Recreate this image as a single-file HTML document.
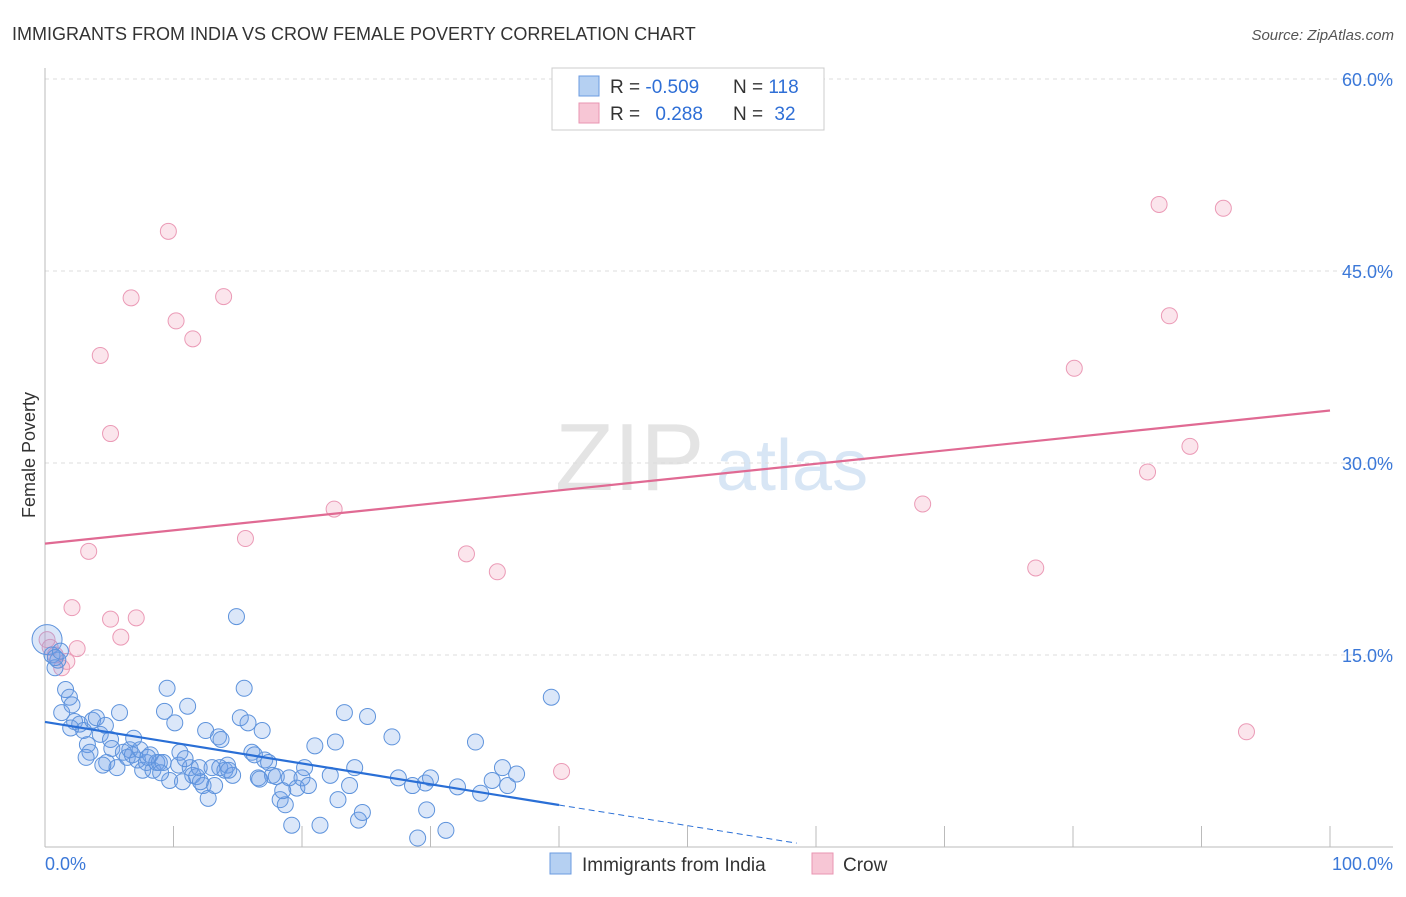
<!DOCTYPE html>
<html><head><meta charset="utf-8"><style>
body{margin:0;background:#fff;font-family:"Liberation Sans",sans-serif;}
svg text{font-family:"Liberation Sans",sans-serif;}
</style></head><body>
<svg id="chart" width="1406" height="892">
<text x="12" y="40" font-size="18" fill="#333">IMMIGRANTS FROM INDIA VS CROW FEMALE POVERTY CORRELATION CHART</text>
<text x="1394" y="40" font-size="15" fill="#555" font-style="italic" text-anchor="end">Source: ZipAtlas.com</text>
<g>
<text x="555" y="490" font-size="96" fill="#e4e4e4" font-family="Liberation Serif,serif">ZIP</text>
<text x="716" y="490" font-size="72" fill="#d8e6f5">atlas</text>
</g>
<g id="grid"></g>
<g id="axes"></g>
<g id="marks"></g>
<text x="35" y="455" font-size="18" fill="#333" text-anchor="middle" transform="rotate(-90 35 455)">Female Poverty</text>
<g>
<rect x="552" y="68" width="272" height="62" fill="#fff" stroke="#ccc"/>
<rect x="579" y="76" width="20" height="20" fill="#b5d0f2" stroke="#6b9be0"/>
<rect x="579" y="103" width="20" height="20" fill="#f7c6d5" stroke="#e995b2"/>
<text x="610" y="93" font-size="19" fill="#333">R = <tspan fill="#2f6fd6">-0.509</tspan></text>
<text x="733" y="93" font-size="19" fill="#333">N = <tspan fill="#2f6fd6">118</tspan></text>
<text x="610" y="120" font-size="19" fill="#333">R = <tspan fill="#2f6fd6" dx="10">0.288</tspan></text>
<text x="733" y="120" font-size="19" fill="#333">N = <tspan fill="#2f6fd6" dx="6">32</tspan></text>
</g>
<g>
<rect x="550" y="853" width="21" height="21" fill="#b5d0f2" stroke="#6b9be0"/>
<text x="582" y="871" font-size="19" fill="#333">Immigrants from India</text>
<rect x="812" y="853" width="21" height="21" fill="#f7c6d5" stroke="#e995b2"/>
<text x="843" y="871" font-size="19" fill="#333">Crow</text>
</g>
</svg>
<script>
const yTicks=[15,30,45,60];
const yTickLabels=["15.0%","30.0%","45.0%","60.0%"];
const xTicks=[0,10,20,30,40,50,60,70,80,90,100];
const blueX=[0.16,0.54,0.78,1.0,1.3,1.6,1.9,2.1,2.3,2.7,3.0,3.3,3.5,3.7,4.0,4.3,4.7,4.8,5.1,5.2,5.6,5.8,6.1,6.4,6.6,6.8,7.2,7.4,7.6,7.9,8.2,8.4,8.7,8.9,9.2,9.5,9.3,9.7,10.1,10.4,10.5,10.7,11.1,11.3,11.5,11.8,12.0,12.3,12.5,12.7,13.0,13.2,13.5,13.7,13.6,14.0,14.2,14.6,14.9,15.2,15.5,15.8,16.1,16.3,16.6,16.9,17.1,17.4,17.7,18.0,18.3,18.7,19.0,19.2,19.6,20.0,20.2,20.5,21.0,21.4,22.2,22.6,22.8,23.3,23.7,24.1,24.4,24.7,25.1,27.0,27.5,28.6,29.0,29.6,30.0,29.7,31.2,32.1,33.5,33.9,34.8,35.6,36.0,36.7,39.4,0.8,1.2,2.0,3.2,4.5,6.9,8.0,9.0,10.9,12.1,14.3,16.7,18.5];
const blueY=[16.2,15.0,14.0,14.6,10.5,12.3,11.7,11.1,9.8,9.6,9.1,8.0,7.4,9.9,10.1,8.8,9.5,6.6,8.4,7.7,6.2,10.5,7.4,7.0,7.6,7.2,6.8,7.6,6.0,6.6,7.2,6.0,6.6,6.6,6.6,12.4,10.6,5.2,9.7,6.4,7.4,5.1,11.0,6.2,5.6,5.5,6.2,4.8,9.1,3.8,6.2,4.8,8.6,8.4,6.2,6.0,6.4,5.6,18.0,10.1,12.4,9.7,7.4,7.2,5.4,9.1,6.8,6.6,5.6,5.5,3.7,3.3,5.4,1.7,4.6,5.4,6.2,4.8,7.9,1.7,5.6,8.2,3.7,10.5,4.8,6.2,2.1,2.7,10.2,8.6,5.4,4.8,0.7,5.0,5.4,2.9,1.3,4.7,8.2,4.2,5.2,6.2,4.8,5.7,11.7,14.8,15.3,9.3,7.0,6.4,8.5,7.0,5.8,6.9,5.1,6.0,5.3,4.4];
const pinkX=[0.16,4.3,9.6,6.7,10.2,13.9,11.5,5.1,3.4,2.1,5.1,7.1,5.9,2.5,1.7,1.3,15.6,22.5,32.8,35.2,40.2,68.3,77.1,80.1,85.8,86.7,87.5,89.1,91.7,93.5,0.8,0.4];
const pinkY=[16.2,38.4,48.1,42.9,41.1,43.0,39.7,32.3,23.1,18.7,17.8,17.9,16.4,15.5,14.5,14.0,24.1,26.4,22.9,21.5,5.9,26.8,21.8,37.4,29.3,50.2,41.5,31.3,49.9,9.0,15.0,15.6];
const blueLine=[[0,9.77],[40,3.28]];
const blueDash=[[40,3.28],[58.5,0.3]];
const pinkLine=[[0,23.7],[100,34.1]];
const NS="http://www.w3.org/2000/svg";
const X=v=>45+v*12.85, Y=v=>847-v*12.8;
function mk(tag,attrs,parent){const e=document.createElementNS(NS,tag);for(const k in attrs)e.setAttribute(k,attrs[k]);parent.appendChild(e);return e;}
const grid=document.getElementById('grid'),axes=document.getElementById('axes'),marks=document.getElementById('marks');
yTicks.forEach((t,i)=>{
 const l=mk('line',{x1:45,x2:1393,y1:Y(t),y2:Y(t),stroke:'#ddd','stroke-dasharray':'4 4'},grid);
 
 
 const tx=mk('text',{x:1393,y:Y(t)+7,'font-size':18,fill:'#3b78d8','text-anchor':'end'},axes);
 tx.textContent=yTickLabels[i];
 
 
});
const al=mk('line',{x1:45,x2:45,y1:68,y2:847,stroke:'#bbb'},axes);


const bl=mk('line',{x1:45,x2:1393,y1:847,y2:847,stroke:'#bbb'},axes);


xTicks.forEach(t=>{
 const l=mk('line',{x1:X(t),x2:X(t),y1:826,y2:847,stroke:'#bbb'},axes);
 
 
});
const x0=mk('text',{x:45,y:870,'font-size':18,fill:'#3b78d8'},axes);x0.textContent='0.0%';


const x1=mk('text',{x:1393,y:870,'font-size':18,fill:'#3b78d8','text-anchor':'end'},axes);x1.textContent='100.0%';


pinkX.forEach((v,i)=>{
 const c=mk('circle',{cx:X(v),cy:Y(pinkY[i]),r:8,fill:'rgba(240,150,180,0.25)',stroke:'#eb9ab6','stroke-width':1},marks);
 
 
});
blueX.forEach((v,i)=>{
 const c=mk('circle',{cx:X(v),cy:Y(blueY[i]),r:i===0?15:8,fill:'rgba(110,160,230,0.25)',stroke:'#5e93dc','stroke-width':1},marks);
 
 
});
const bt=mk('line',{x1:X(blueLine[0][0]),y1:Y(blueLine[0][1]),x2:X(blueLine[1][0]),y2:Y(blueLine[1][1]),stroke:'#2a6fd6','stroke-width':2.2},marks);


const bd=mk('line',{x1:X(blueDash[0][0]),y1:Y(blueDash[0][1]),x2:X(blueDash[1][0]),y2:Y(blueDash[1][1]),stroke:'#2a6fd6','stroke-width':1,'stroke-dasharray':'6 4'},marks);


const pt=mk('line',{x1:X(pinkLine[0][0]),y1:Y(pinkLine[0][1]),x2:X(pinkLine[1][0]),y2:Y(pinkLine[1][1]),stroke:'#e06a93','stroke-width':2.2},marks);


</script>
</body></html>
